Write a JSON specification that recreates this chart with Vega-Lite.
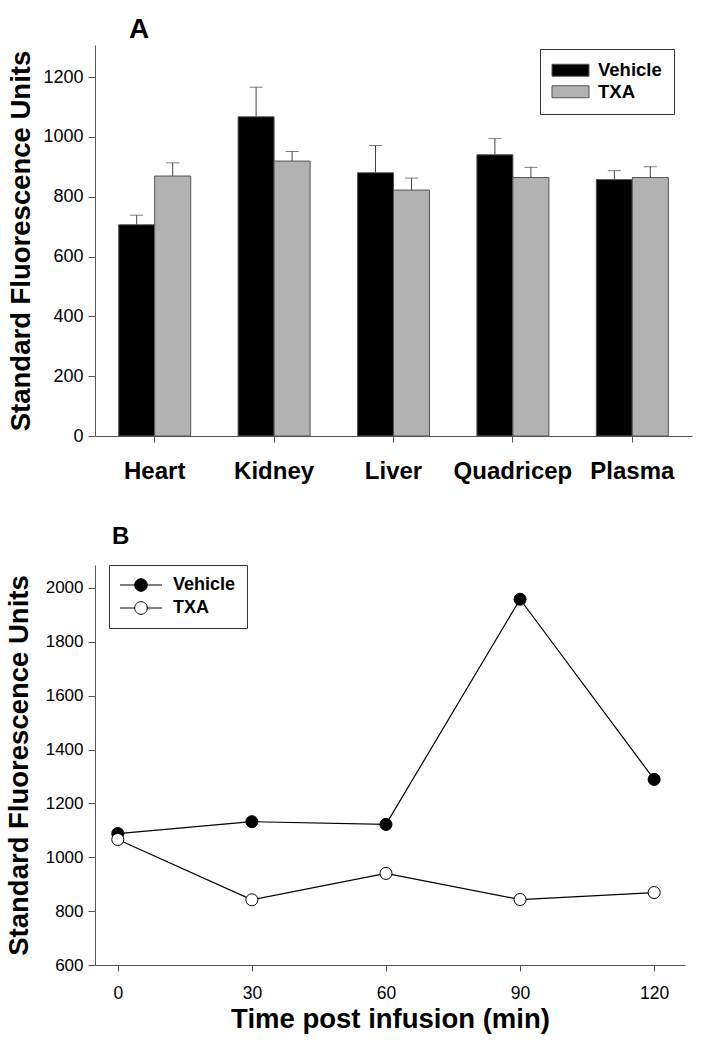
{
  "$schema": "https://vega.github.io/schema/vega-lite/v6.json",
  "padding": {"left": 5, "top": 15, "right": 10, "bottom": 5},
  "spacing": 42,
  "resolve": {"scale": {"fill": "independent"}, "legend": {"fill": "independent"}},
  "config": {
    "font": "Liberation Sans",
    "view": {"stroke": null},
    "axis": {"grid": false, "domainColor": "#555", "tickColor": "#555", "labelColor": "black", "titleColor": "black", "labelFont": "Liberation Sans", "titleFont": "Liberation Sans", "titleFontWeight": "bold"},
    "legend": {"labelFont": "Liberation Sans", "labelFontWeight": "bold", "labelColor": "black"}
  },
  "vconcat": [
    {
      "width": 597,
      "height": 391,
      "title": {"text": "A", "anchor": "start", "frame": "group", "dx": 34, "fontSize": 28, "fontWeight": "bold", "baseline": "alphabetic", "offset": -20.8},
      "data": {"values": [
        {"organ": "Heart", "group": "Vehicle", "value": 706, "upper": 738},
        {"organ": "Heart", "group": "TXA", "value": 869, "upper": 913},
        {"organ": "Kidney", "group": "Vehicle", "value": 1067, "upper": 1166},
        {"organ": "Kidney", "group": "TXA", "value": 919, "upper": 951},
        {"organ": "Liver", "group": "Vehicle", "value": 880, "upper": 971},
        {"organ": "Liver", "group": "TXA", "value": 822, "upper": 862},
        {"organ": "Quadricep", "group": "Vehicle", "value": 940, "upper": 994},
        {"organ": "Quadricep", "group": "TXA", "value": 864, "upper": 898},
        {"organ": "Plasma", "group": "Vehicle", "value": 857, "upper": 887},
        {"organ": "Plasma", "group": "TXA", "value": 864, "upper": 900}
      ]},
      "encoding": {
        "x": {"field": "organ", "type": "nominal", "sort": ["Heart", "Kidney", "Liver", "Quadricep", "Plasma"],
              "scale": {"paddingInner": 0.397, "paddingOuter": 0.1985},
              "axis": {"title": null, "labelAngle": 0, "labelFontSize": 24, "labelFontWeight": "bold", "tickSize": 6, "labelPadding": 17}},
        "xOffset": {"field": "group", "type": "nominal", "sort": ["Vehicle", "TXA"], "scale": {"paddingInner": 0, "paddingOuter": 0}}
      },
      "layer": [
        {
          "mark": {"type": "bar", "stroke": "#555", "strokeWidth": 1},
          "encoding": {
            "y": {"field": "value", "type": "quantitative", "title": "Standard Fluorescence Units",
                  "scale": {"domain": [0, 1307], "nice": false},
                  "axis": {"values": [0, 200, 400, 600, 800, 1000, 1200], "format": "d", "labelFontSize": 18, "tickSize": 7, "labelPadding": 5, "titleFontSize": 27.5, "titlePadding": 7}},
            "fill": {"field": "group", "type": "nominal", "sort": ["Vehicle", "TXA"],
                     "scale": {"domain": ["Vehicle", "TXA"], "range": ["black", "#b2b2b2"]},
                     "legend": {"title": null, "orient": "none", "legendX": 445, "legendY": 4, "strokeColor": "#333", "padding": 12,
                                "labelFontSize": 18.5, "rowPadding": 2.5, "symbolSize": 100, "symbolStrokeColor": "#555", "symbolStrokeWidth": 1,
                                "symbolType": "M-3.7,-1.2H3.7V1.2H-3.7Z", "symbolOffset": 9.25, "labelOffset": 18.25}}
          }
        },
        {
          "mark": {"type": "rule", "color": "#444", "strokeWidth": 1},
          "encoding": {
            "y": {"field": "value", "type": "quantitative", "title": "Standard Fluorescence Units"},
            "y2": {"field": "upper"}
          }
        },
        {
          "mark": {"type": "tick", "color": "#444", "thickness": 1, "size": 13},
          "encoding": {
            "y": {"field": "upper", "type": "quantitative", "title": "Standard Fluorescence Units"}
          }
        }
      ]
    },
    {
      "width": 590,
      "height": 400,
      "title": {"text": "B", "anchor": "start", "frame": "group", "dx": 17, "fontSize": 24, "fontWeight": "bold", "baseline": "alphabetic", "offset": -3.5},
      "data": {"values": [
        {"time": 0, "group": "Vehicle", "value": 1088},
        {"time": 30, "group": "Vehicle", "value": 1132},
        {"time": 60, "group": "Vehicle", "value": 1122},
        {"time": 90, "group": "Vehicle", "value": 1958},
        {"time": 120, "group": "Vehicle", "value": 1289},
        {"time": 0, "group": "TXA", "value": 1066},
        {"time": 30, "group": "TXA", "value": 842},
        {"time": 60, "group": "TXA", "value": 940},
        {"time": 90, "group": "TXA", "value": 843},
        {"time": 120, "group": "TXA", "value": 869}
      ]},
      "encoding": {
        "x": {"field": "time", "type": "quantitative", "title": "Time post infusion (min)",
              "scale": {"domain": [-5.1, 126.9], "nice": false, "zero": false},
              "axis": {"values": [0, 30, 60, 90, 120], "labelFontSize": 17.5, "tickSize": 6, "labelPadding": 13, "titleFontSize": 27.5, "titlePadding": 4}},
        "y": {"field": "value", "type": "quantitative", "title": "Standard Fluorescence Units",
              "scale": {"domain": [600, 2085], "nice": false, "zero": false},
              "axis": {"values": [600, 800, 1000, 1200, 1400, 1600, 1800, 2000], "format": "d", "labelFontSize": 17, "tickSize": 7, "labelPadding": 5, "titleFontSize": 27.5, "titlePadding": 11.5}}
      },
      "layer": [
        {
          "mark": {"type": "line", "color": "black", "strokeWidth": 1.2},
          "encoding": {"detail": {"field": "group", "type": "nominal"}}
        },
        {
          "mark": {"type": "circle", "size": 145, "stroke": "black", "strokeWidth": 1, "opacity": 1},
          "encoding": {
            "fill": {"field": "group", "type": "nominal", "sort": ["Vehicle", "TXA"],
                     "scale": {"domain": ["Vehicle", "TXA"], "range": ["black", "white"]},
                     "legend": {"title": null, "orient": "none", "legendX": 14, "legendY": 0, "strokeColor": "#333", "padding": 11,
                                "labelFontSize": 18, "rowPadding": 5, "symbolSize": 100, "symbolStrokeColor": "black", "symbolStrokeWidth": 1,
                                "symbolType": "M-4.2,0H-1.26M1.26,0H4.2M-1.26,0A1.26,1.26,0,1,1,1.26,0A1.26,1.26,0,1,1,-1.26,0Z", "symbolOffset": 12, "labelOffset": 23}}
          }
        }
      ]
    }
  ]
}
